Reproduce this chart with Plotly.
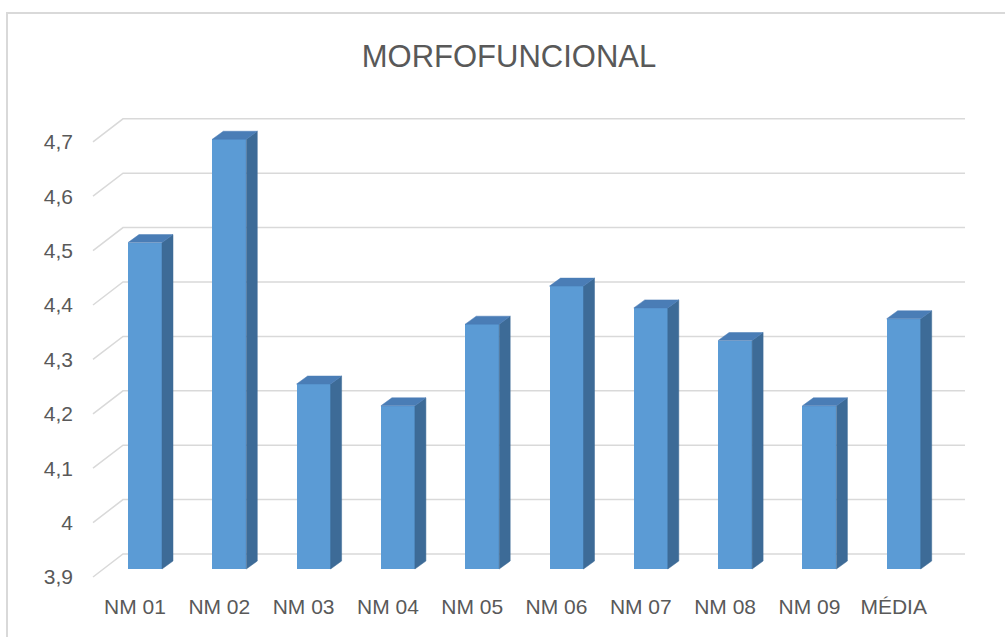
import plotly.graph_objects as go

# ---- data ----
categories = ["NM 01", "NM 02", "NM 03", "NM 04", "NM 05", "NM 06", "NM 07", "NM 08", "NM 09", "MÉDIA"]
values = [4.50, 4.69, 4.24, 4.20, 4.35, 4.42, 4.38, 4.32, 4.20, 4.36]
y_ticks = [3.9, 4.0, 4.1, 4.2, 4.3, 4.4, 4.5, 4.6, 4.7]
y_tick_labels = ["3,9", "4", "4,1", "4,2", "4,3", "4,4", "4,5", "4,6", "4,7"]
title_text = "MORFOFUNCIONAL"

# ---- styling / geometry (pseudo 3-D) ----
BASE = 3.9
PX_X = 84.3          # pixels per category unit
PX_Y = 544.0         # pixels per value unit
bar_w = 34 / PX_X
side_dx = 11 / PX_X
side_dy = 8 / PX_Y
back_dx = 20 / PX_X   # bar plane -> back wall
back_dy = 15 / PX_Y
front_dx = -10 / PX_X # bar plane -> front edge
front_dy = -8 / PX_Y
grid_left_front = (93 - 145) / PX_X
grid_left_back = (123 - 145) / PX_X
grid_right_back = (965 - 145) / PX_X

FRONT = "#5B9BD5"
SIDE = "#3D6B97"
TOP = "#4A7DB6"
GRID = "#D9D9D9"
TEXT = "#595959"
FONT = "Liberation Sans"

L, R, T, B = 80, 25, 100, 47
W, H = 1005, 637
x_range = [(L - 145) / PX_X, (W - R - 145) / PX_X]
y_range = [BASE - (H - B - 569) / PX_Y, BASE + (569 - T) / PX_Y]

fig = go.Figure()

# gridlines (front diagonal + back wall), placed below all traces
shapes = []
for v in y_ticks:
    path = "M {} {} L {} {} L {} {}".format(
        grid_left_front, v + front_dy, grid_left_back, v + back_dy, grid_right_back, v + back_dy)
    shapes.append(dict(type="path", xref="x", yref="y", path=path,
                       line=dict(color=GRID, width=1.5), layer="below"))

# chart border
shapes.append(dict(type="rect", xref="paper", yref="paper",
                   x0=(7 - L) / (W - L - R), x1=(1012 - L) / (W - L - R),
                   y0=-(650 - (H - B)) / (H - T - B), y1=((H - B) - 13) / (H - T - B),
                   line=dict(color=GRID, width=2), fillcolor="rgba(0,0,0,0)", layer="below"))

xs = list(range(len(categories)))

# front faces
fig.add_trace(go.Bar(
    x=xs, y=[v - BASE for v in values], base=BASE, width=bar_w,
    marker=dict(color=FRONT, line=dict(width=0)),
    customdata=values, hovertemplate="%{customdata}<extra></extra>",
    showlegend=False))

# side faces and top faces
for i, v in zip(xs, values):
    xr = i + bar_w / 2
    xl = i - bar_w / 2
    fig.add_trace(go.Scatter(
        x=[xr, xr + side_dx, xr + side_dx, xr, xr],
        y=[BASE, BASE + side_dy, v + side_dy, v, BASE],
        fill="toself", fillcolor=SIDE, mode="lines", line=dict(color=SIDE, width=0.5),
        hoverinfo="skip", showlegend=False))
    fig.add_trace(go.Scatter(
        x=[xl, xl + side_dx, xr + side_dx, xr, xl],
        y=[v, v + side_dy, v + side_dy, v, v],
        fill="toself", fillcolor=TOP, mode="lines", line=dict(color=TOP, width=0.5),
        hoverinfo="skip", showlegend=False))

fig.update_layout(
    width=W, height=H,
    margin=dict(l=L, r=R, t=T, b=B),
    paper_bgcolor="white", plot_bgcolor="white",
    font=dict(family=FONT, color=TEXT, size=21),
    title=dict(text=title_text, x=509 / W, xanchor="center",
               y=1 - 56 / H, yanchor="middle", yref="container",
               font=dict(family=FONT, size=31, color=TEXT)),
    xaxis=dict(range=x_range, showgrid=False, zeroline=False, showline=False,
               tickmode="array", tickvals=[i + front_dx for i in xs], ticktext=categories,
               ticks="", ticklabelstandoff=2, tickfont=dict(size=21, color=TEXT)),
    yaxis=dict(range=y_range, showgrid=False, zeroline=False, showline=False,
               tickmode="array", tickvals=[v + front_dy for v in y_ticks], ticktext=y_tick_labels,
               ticks="", ticklabelstandoff=6, tickfont=dict(size=21, color=TEXT)),
    bargap=0,
    shapes=shapes,
)

fig.write_html("out.html", config={"displayModeBar": False},
               post_script="document.body.style.margin='0';")
